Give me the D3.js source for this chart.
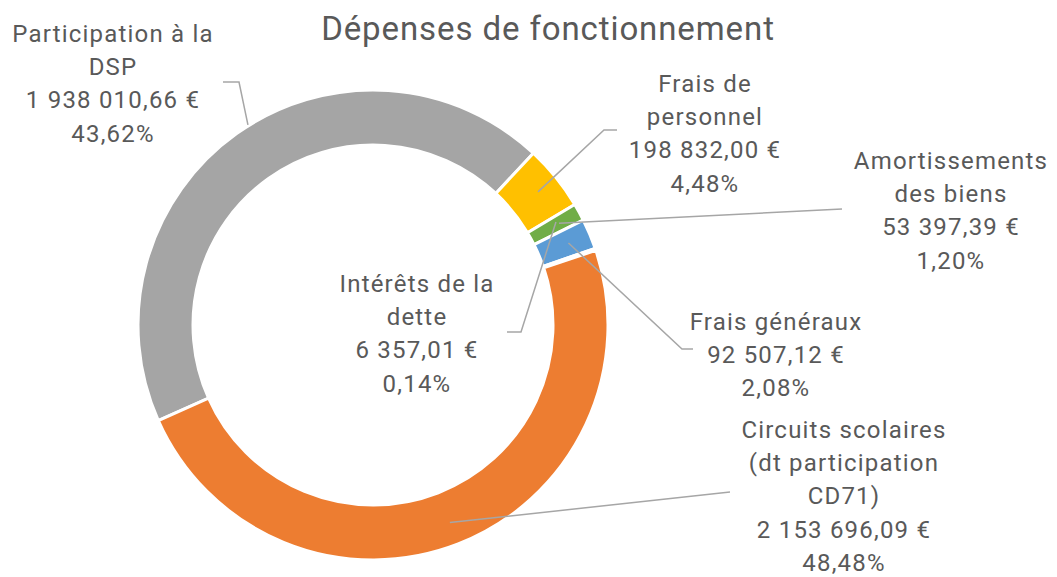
<!DOCTYPE html>
<html>
<head>
<meta charset="utf-8">
<script src="https://cdn.jsdelivr.net/npm/d3@7"></script>
<style>
  body { margin: 0; background: #fff; }
  svg { display: block; }
  .label, .title { font-family: Roboto, "Noto Sans", sans-serif; fill: #595959; }
  .leader { fill: none; stroke: #a6a6a6; stroke-width: 1.5; }
</style>
</head>
<body>
<svg id="chart" width="1057" height="577"></svg>
<script>
// Donnees (ordre horaire a partir de la part grise).
const categories = [
    "Participation à la DSP",
    "Frais de personnel",
    "Amortissements des biens",
    "Frais généraux",
    "Intérêts de la dette",
    "Circuits scolaires (dt participation CD71)"
];
const amounts = [1938010.66, 198832.00, 53397.39, 92507.12, 6357.01, 2153696.09];
const colors = ["#a5a5a5", "#ffc000", "#70ad47", "#5b9bd5", "#4472c4", "#ed7d31"];

// Retours a la ligne des libelles, comme dans l'original.
const labelLines = [
    ["Participation à la", "DSP"],
    ["Frais de", "personnel"],
    ["Amortissements", "des biens"],
    ["Frais généraux"],
    ["Intérêts de la", "dette"],
    ["Circuits scolaires", "(dt participation", "CD71)"]
];

// Position des etiquettes et des lignes de rappel.
const labelLayout = [
    { x: 113, y: 42,  start: { angle: -32, r: 236 }, points: [[239, 82], [223, 82]] },
    { x: 705, y: 92,  start: null, points: [[604, 130], [617, 130]] },
    { x: 951, y: 169, start: null, points: [[842, 209]] },
    { x: 776, y: 330, start: null, points: [[682, 349], [693, 349]] },
    { x: 417, y: 292, start: { angle: 60.6, r: 210 }, points: [[521, 332], [507, 332]] },
    { x: 844, y: 438, start: null, points: [[730, 492]] }
];

const cx = 373, cy = 325;
const outerRadius = 235, innerRadius = 180;
const lineHeight = 33.2;
const startDeg = -114;

const fr = d3.formatLocale({
    decimal: ",",
    thousands: "\u00a0",
    grouping: [3],
    currency: ["", "\u00a0€"]
});
const formatAmount = fr.format(",.2f");
const formatPercent = fr.format(".2%");

const svg = d3.select("#chart");
const total = d3.sum(amounts);

svg.append("text")
    .attr("class", "title")
    .attr("x", 548)
    .attr("y", 40)
    .attr("text-anchor", "middle")
    .attr("font-size", 33)
    .attr("letter-spacing", 0.9)
    .text("Dépenses de fonctionnement");

const pie = d3.pie()
    .sort(null)
    .value(function(d) { return d; })
    .startAngle(startDeg * Math.PI / 180)
    .endAngle((startDeg + 360) * Math.PI / 180);

const arcs = pie(amounts);

const arc = d3.arc()
    .innerRadius(innerRadius)
    .outerRadius(outerRadius);

const g = svg.append("g").attr("transform", "translate(" + cx + "," + cy + ")");

g.selectAll(".slice")
    .data(arcs)
    .enter()
    .append("path")
    .attr("class", "slice")
    .attr("d", arc)
    .attr("fill", function(d, i) { return colors[i]; })
    .attr("stroke", "#fff")
    .attr("stroke-width", 3);

// Point de depart des lignes : milieu de la part, sauf cas particuliers.
function leaderStart(d, i) {
    const s = labelLayout[i].start;
    const angle = s ? s.angle * Math.PI / 180 : (d.startAngle + d.endAngle) / 2;
    const r = s ? s.r : 212;
    return [cx + r * Math.sin(angle), cy - r * Math.cos(angle)];
}

svg.selectAll(".leader")
    .data(arcs)
    .enter()
    .append("polyline")
    .attr("class", "leader")
    .attr("points", function(d, i) {
        return [leaderStart(d, i)].concat(labelLayout[i].points)
            .map(function(p) { return p.join(","); }).join(" ");
    });

arcs.forEach(function(d, i) {
    const lines = labelLines[i].concat([
        formatAmount(amounts[i]) + "\u00a0€",
        formatPercent(amounts[i] / total)
    ]);
    svg.append("text")
        .attr("class", "label")
        .attr("text-anchor", "middle")
        .attr("font-size", 24)
        .attr("letter-spacing", 1.2)
        .selectAll("tspan")
        .data(lines)
        .enter()
        .append("tspan")
        .attr("x", labelLayout[i].x)
        .attr("y", function(_, k) { return labelLayout[i].y + k * lineHeight; })
        .text(function(line) { return line; });
});
</script>
</body>
</html>
